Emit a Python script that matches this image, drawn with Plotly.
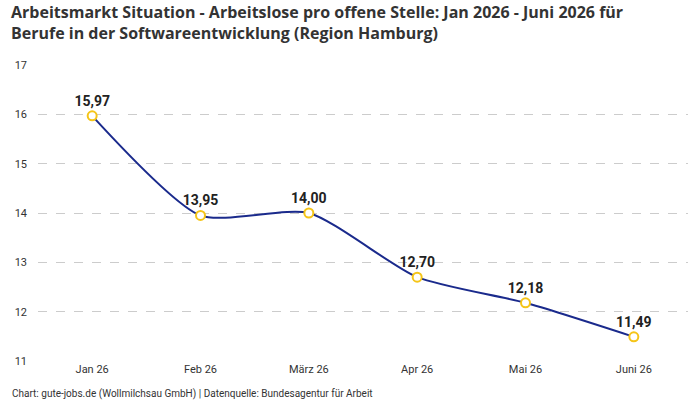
import plotly.graph_objects as go

months = ["Jan 26", "Feb 26", "März 26", "Apr 26", "Mai 26", "Juni 26"]
values = [15.97, 13.95, 14.00, 12.70, 12.18, 11.49]
labels = ["15,97", "13,95", "14,00", "12,70", "12,18", "11,49"]
title_lines = [
    "Arbeitsmarkt Situation - Arbeitslose pro offene Stelle: Jan 2026 - Juni 2026 für",
    "Berufe in der Softwareentwicklung (Region Hamburg)",
]
source = "Chart: gute-jobs.de (Wollmilchsau GmbH) | Datenquelle: Bundesagentur für Arbeit"

fig = go.Figure()
fig.add_trace(go.Scatter(
    x=months, y=values, mode="lines+markers+text",
    text=labels, textposition="top center",
    textfont=dict(family="Roboto", size=14, color="#222222", weight="bold"),
    line=dict(color="#1a2a8c", width=2, shape="spline", smoothing=0.65),
    marker=dict(size=9, color="white", line=dict(color="#f5c518", width=2)),
    cliponaxis=False, hoverinfo="skip",
))

annots = []
for t, yy in zip(title_lines, [1.179, 1.108]):
    annots.append(dict(
        text="<b>" + t + "</b>", xref="paper", yref="paper", x=-0.043, y=yy,
        xanchor="left", yanchor="middle", align="left", showarrow=False,
        borderpad=0, font=dict(size=16, color="#333333", family="Open Sans"),
    ))
annots.append(dict(
    text=source, xref="paper", yref="paper", x=-0.043, y=-0.085,
    xanchor="left", yanchor="top", showarrow=False,
    font=dict(size=10, color="#333333"),
))

fig.update_layout(
    width=700, height=400,
    margin=dict(l=38, r=12, t=65, b=39),
    paper_bgcolor="white", plot_bgcolor="white",
    showlegend=False,
    font=dict(family="Roboto", color="#333333"),
    xaxis=dict(
        type="category", range=[-0.5, 5.5], showgrid=False, showline=False,
        zeroline=False, ticks="", tickfont=dict(size=11, color="#333333"),
    ),
    yaxis=dict(
        range=[11, 17], dtick=1, showgrid=True, gridcolor="#cccccc",
        griddash="dash", gridwidth=1, zeroline=False, showline=False,
        ticks="", tickfont=dict(size=11, color="#333333"), ticklabelstandoff=10,
    ),
    annotations=annots,
)

fig.write_html("out.html")
